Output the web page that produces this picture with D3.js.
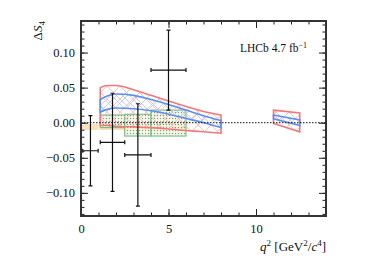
<!DOCTYPE html>
<html>
<head>
<meta charset="utf-8">
<script src="https://cdn.jsdelivr.net/npm/d3@7"></script>
<style>
  body { margin: 0; background: #fff; }
  text { font-family: "Liberation Serif", "DejaVu Serif", serif; fill: #111; }
</style>
</head>
<body>
<div id="canvas"></div>
<script>
// prediction band, low q2 region
var bandQ  = [1.1, 1.5, 2, 3, 4, 5, 6, 7, 8];
var redHi  = [0.050, 0.053, 0.053, 0.047, 0.039, 0.031, 0.023, 0.016, 0.011];
var redLo  = [-0.004, -0.004, -0.005, -0.006, -0.007, -0.009, -0.011, -0.013, -0.015];
var blueHi = [0.033, 0.038, 0.041, 0.039, 0.033, 0.026, 0.018, 0.010, 0.003];
var blueLo = [0.015, 0.019, 0.021, 0.020, 0.017, 0.012, 0.006, 0.000, -0.007];

// prediction band, between the charmonia
var bandQ2  = [11, 12.5];
var redHi2  = [0.018, 0.014];
var redLo2  = [-0.001, -0.013];
var blueHi2 = [0.011, 0.004];
var blueLo2 = [0.0056, -0.004];

// binned predictions
var greenLo  = [1.1, 2.5, 4];
var greenHi  = [2.5, 4, 6];
var greenTop = [0.011, 0.012, 0.018];
var greenBot = [-0.007, -0.019, -0.019];

var orangeLo  = [0.1, 1.1, 2.5, 4];
var orangeHi  = [0.98, 2.5, 4, 6];
var orangeTop = [-0.003, -0.003, -0.003, -0.003];
var orangeBot = [-0.0093, -0.0093, -0.0093, -0.0093];

// measurements
var binLo = [0.1, 1.1, 2.5, 4];
var binHi = [0.98, 2.5, 4, 6];
var val   = [-0.040, -0.028, -0.046, 0.075];
var err   = [0.050, 0.070, 0.073, 0.057];

var yMajor = [-0.10, -0.05, 0.00, 0.05, 0.10];
var xMajor = [0, 5, 10];

var W = 374, H = 264;
var margin = { top: 21, right: 48, bottom: 48, left: 81 };
var width = W - margin.left - margin.right;
var height = H - margin.top - margin.bottom;

var svg = d3.select("#canvas").append("svg")
  .attr("width", W)
  .attr("height", H);

var defs = svg.append("defs");

function hatch(id, color, dirs, step, sw) {
  var p = defs.append("pattern")
    .attr("id", id)
    .attr("patternUnits", "userSpaceOnUse")
    .attr("width", step)
    .attr("height", step);
  dirs.forEach(function (d) {
    p.append("path")
      .attr("d", d == "/" ? "M0," + step + "L" + step + ",0M-1,1L1,-1M" + (step - 1) + "," + (step + 1) + "L" + (step + 1) + "," + (step - 1)
                          : "M0,0L" + step + "," + step + "M-1," + (step - 1) + "L1," + (step + 1) + "M" + (step - 1) + ",-1L" + (step + 1) + ",1")
      .attr("stroke", color)
      .attr("stroke-width", sw);
  });
}
hatch("redHatch", "#f9b4b4", ["/", "\\"], 13, 0.8);
hatch("blueHatch", "#a9c5f6", ["/", "\\"], 11, 0.8);

var dots = defs.append("pattern")
  .attr("id", "greenDots")
  .attr("patternUnits", "userSpaceOnUse")
  .attr("width", 3)
  .attr("height", 3);
dots.append("rect").attr("width", 3).attr("height", 3).attr("fill", "#fbf3e6");
dots.append("circle").attr("cx", 1.5).attr("cy", 1.5).attr("r", 0.7).attr("fill", "#4f9f60");

var g = svg.append("g")
  .attr("transform", "translate(" + margin.left + "," + margin.top + ")");

var x = d3.scaleLinear().domain([0, 14]).range([0, width]);
var y = d3.scaleLinear().domain([-0.133, 0.145]).range([height, 0]);

// orange binned boxes
g.selectAll(".orange")
  .data(orangeLo).enter()
  .append("rect")
  .attr("x", function (d) { return x(d); })
  .attr("width", function (d, i) { return x(orangeHi[i]) - x(d); })
  .attr("y", function (d, i) { return y(orangeTop[i]); })
  .attr("height", function (d, i) { return y(orangeBot[i]) - y(orangeTop[i]); })
  .attr("fill", "#fde0bd")
  .attr("stroke", "#f8cb96")
  .attr("stroke-width", 0.6);

// green binned boxes
g.selectAll(".green")
  .data(greenLo).enter()
  .append("rect")
  .attr("x", function (d) { return x(d); })
  .attr("width", function (d, i) { return x(greenHi[i]) - x(d); })
  .attr("y", function (d, i) { return y(greenTop[i]); })
  .attr("height", function (d, i) { return y(greenBot[i]) - y(greenTop[i]); })
  .attr("fill", "url(#greenDots)")
  .attr("fill-opacity", 0.85)
  .attr("stroke", "#6fbb80")
  .attr("stroke-width", 1.1);

function band(q, hi, lo, fill, stroke, sw) {
  var pts = q.map(function (d, i) { return { q: d, hi: hi[i], lo: lo[i] }; });
  var area = d3.area()
    .curve(d3.curveMonotoneX)
    .x(function (d) { return x(d.q); })
    .y0(function (d) { return y(d.lo); })
    .y1(function (d) { return y(d.hi); });
  g.append("path")
    .datum(pts)
    .attr("d", area)
    .attr("fill", fill)
    .attr("stroke", stroke)
    .attr("stroke-width", sw);
}
band(bandQ, redHi, redLo, "url(#redHatch)", "#f27878", 1.6);
band(bandQ2, redHi2, redLo2, "url(#redHatch)", "#f27878", 1.6);
band(bandQ, blueHi, blueLo, "url(#blueHatch)", "#5b8ef0", 1.6);
band(bandQ2, blueHi2, blueLo2, "url(#blueHatch)", "#5b8ef0", 1.6);

// zero line
g.append("line")
  .attr("x1", 0).attr("x2", width)
  .attr("y1", y(0)).attr("y2", y(0))
  .attr("stroke", "#111")
  .attr("stroke-width", 1)
  .attr("stroke-dasharray", "1.5,1.5");

// data points with error bars
var pt = g.selectAll(".pt")
  .data(val).enter()
  .append("g")
  .attr("stroke", "#111")
  .attr("stroke-width", 1.2)
  .attr("fill", "none");
pt.append("path")
  .attr("d", function (d, i) {
    var xc = x((binLo[i] + binHi[i]) / 2), xl = x(binLo[i]), xr = x(binHi[i]);
    var yc = y(d), yt = y(d + err[i]), yb = y(d - err[i]);
    return "M" + xl + "," + yc + "H" + xr +
           "M" + xc + "," + yt + "V" + yb +
           "M" + (xc - 2) + "," + yt + "H" + (xc + 2) +
           "M" + (xc - 2) + "," + yb + "H" + (xc + 2) +
           "M" + xl + "," + (yc - 2) + "V" + (yc + 2) +
           "M" + xr + "," + (yc - 2) + "V" + (yc + 2);
  });

// axes with inward ticks on all four sides
function styleAxis(sel) {
  sel.select(".domain").remove();
  sel.selectAll("line").attr("stroke", "#222").attr("stroke-width", 1);
  sel.selectAll("text").style("font-family", "Liberation Serif").style("font-size", "12.5px").attr("fill", "#111");
}
var minorY = d3.range(-13, 15).map(function (d) { return d / 100; });
var minorX = d3.range(0, 15);

g.append("g").call(d3.axisLeft(y).tickValues(minorY).tickSize(-3.5).tickFormat("")).call(styleAxis);
g.append("g").call(d3.axisLeft(y).tickValues(yMajor).tickSize(-7).tickPadding(6)
  .tickFormat(function (d) { return d3.format(".2f")(d).replace("-", "\u2212"); })).call(styleAxis);
g.append("g").attr("transform", "translate(" + width + ",0)")
  .call(d3.axisRight(y).tickValues(minorY).tickSize(-3.5).tickFormat("")).call(styleAxis);
g.append("g").attr("transform", "translate(" + width + ",0)")
  .call(d3.axisRight(y).tickValues(yMajor).tickSize(-7).tickFormat("")).call(styleAxis);

g.append("g").attr("transform", "translate(0," + height + ")")
  .call(d3.axisBottom(x).tickValues(minorX).tickSize(-3.5).tickFormat("")).call(styleAxis);
g.append("g").attr("transform", "translate(0," + height + ")")
  .call(d3.axisBottom(x).tickValues(xMajor).tickSize(-7).tickPadding(8).tickFormat(d3.format("d"))).call(styleAxis);
g.append("g")
  .call(d3.axisTop(x).tickValues(minorX).tickSize(-3.5).tickFormat("")).call(styleAxis);
g.append("g")
  .call(d3.axisTop(x).tickValues(xMajor).tickSize(-7).tickFormat("")).call(styleAxis);

// frame
g.append("rect")
  .attr("width", width).attr("height", height)
  .attr("fill", "none")
  .attr("stroke", "#333")
  .attr("stroke-width", 2);

// labels
var yl = svg.append("text")
  .attr("transform", "translate(42," + margin.top + ") rotate(-90)")
  .attr("text-anchor", "end")
  .style("font-size", "13px");
yl.append("tspan").text("\u0394");
yl.append("tspan").style("font-style", "italic").text("S");
yl.append("tspan").attr("dy", 3).style("font-size", "9px").text("4");

var xl = svg.append("text")
  .attr("x", margin.left + width)
  .attr("y", 251)
  .attr("text-anchor", "end")
  .style("font-size", "13px");
xl.append("tspan").style("font-style", "italic").text("q");
xl.append("tspan").attr("dy", -5).style("font-size", "9px").text("2");
xl.append("tspan").attr("dy", 5).text(" [GeV");
xl.append("tspan").attr("dy", -5).style("font-size", "9px").text("2");
xl.append("tspan").attr("dy", 5).text("/");
xl.append("tspan").style("font-style", "italic").text("c");
xl.append("tspan").attr("dy", -5).style("font-size", "9px").text("4");
xl.append("tspan").attr("dy", 5).text("]");

var lab = svg.append("text")
  .attr("x", 240)
  .attr("y", 52)
  .style("font-size", "11.5px");
lab.append("tspan").text("LHCb 4.7 fb");
lab.append("tspan").attr("dy", -4).style("font-size", "8px").text("\u22121");
</script>
</body>
</html>
